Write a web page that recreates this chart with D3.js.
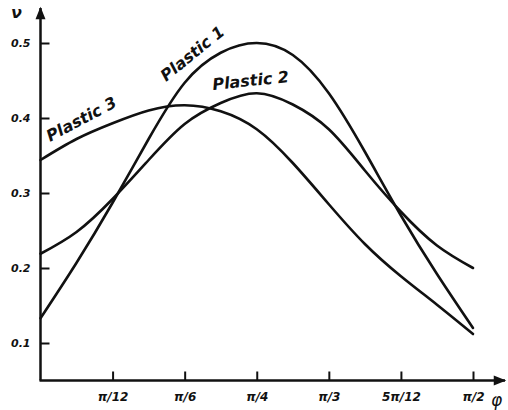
<!DOCTYPE html>
<html>
<head>
<meta charset="utf-8">
<script src="https://cdn.jsdelivr.net/npm/d3@7/dist/d3.min.js"></script>
<style>
  html, body { margin: 0; padding: 0; background: #fff; }
  svg { display: block; }
  text { font-family: "DejaVu Sans", "Liberation Sans", sans-serif; fill: #111; }
</style>
</head>
<body>
<svg id="chart" width="508" height="410"></svg>
<script>
// Angle φ in degrees (0 … π/2)
const phiDeg = [0, 7.5, 15, 22.5, 30, 37.5, 45, 52.5, 60, 67.5, 75, 82.5, 90];

// Poisson's ratio ν for each plastic
const plastic1 = [0.133, 0.207, 0.287, 0.372, 0.447, 0.487, 0.500, 0.484, 0.433, 0.355, 0.270, 0.192, 0.120];
const plastic2 = [0.219, 0.248, 0.292, 0.344, 0.392, 0.420, 0.433, 0.418, 0.385, 0.330, 0.275, 0.230, 0.200];
const plastic3 = [0.344, 0.372, 0.393, 0.410, 0.417, 0.409, 0.385, 0.340, 0.285, 0.232, 0.189, 0.151, 0.112];

const seriesNames = ["Plastic 1", "Plastic 2", "Plastic 3"];

// Axis ticks
const xTickValues = [15, 30, 45, 60, 75, 90];
const xTickLabels = ["π/12", "π/6", "π/4", "π/3", "5π/12", "π/2"];
const yTickValues = [0.1, 0.2, 0.3, 0.4, 0.5];
const yTickLabels = ["0.1", "0.2", "0.3", "0.4", "0.5"];

const svg = d3.select("#chart");
const ink = "#111";

const x = d3.scaleLinear().domain([0, 90]).range([40.5, 473]);
const y = d3.scaleLinear().domain([0.05, 0.5]).range([380.5, 43]);

const x0 = x(0), y0 = y(0.05);

// Arrowhead marker
svg.append("defs").append("marker")
  .attr("id", "arrow")
  .attr("viewBox", "0 0 10 10")
  .attr("refX", 9).attr("refY", 5)
  .attr("markerWidth", 6).attr("markerHeight", 5)
  .attr("markerUnits", "strokeWidth")
  .attr("orient", "auto")
  .append("path").attr("d", "M0,1 L10,5 L0,9 Z").attr("fill", ink);

// Y axis (ticks pointing inward, labels outside)
const yAxis = d3.axisLeft(y)
  .tickValues(yTickValues)
  .tickFormat((d, i) => yTickLabels[i])
  .tickSizeInner(-9).tickSizeOuter(0).tickPadding(10);
const gy = svg.append("g").attr("transform", `translate(${x0},0)`).call(yAxis);
gy.select(".domain").remove();
gy.selectAll(".tick line").attr("stroke", ink).attr("stroke-width", 2);
gy.selectAll(".tick text")
  .attr("font-size", 11).attr("font-weight", "bold").attr("font-style", "italic")
  .attr("fill", ink).attr("font-family", "DejaVu Sans");

// X axis
const xAxis = d3.axisBottom(x)
  .tickValues(xTickValues)
  .tickFormat((d, i) => xTickLabels[i])
  .tickSizeInner(-9).tickSizeOuter(0).tickPadding(12);
const gx = svg.append("g").attr("transform", `translate(0,${y0})`).call(xAxis);
gx.select(".domain").remove();
gx.selectAll(".tick line").attr("stroke", ink).attr("stroke-width", 2);
gx.selectAll(".tick text")
  .attr("font-size", 12).attr("font-weight", "bold").attr("font-style", "italic")
  .attr("fill", ink).attr("font-family", "DejaVu Sans");

// Axis lines with arrows
svg.append("line")
  .attr("x1", x0).attr("y1", y0).attr("x2", x0).attr("y2", 8)
  .attr("stroke", ink).attr("stroke-width", 2.5).attr("marker-end", "url(#arrow)");
svg.append("line")
  .attr("x1", x0 - 1).attr("y1", y0).attr("x2", 505).attr("y2", y0)
  .attr("stroke", ink).attr("stroke-width", 2.5).attr("marker-end", "url(#arrow)");

// Axis symbols
svg.append("text").attr("x", 11).attr("y", 18)
  .attr("font-size", 16).attr("font-weight", "bold").attr("font-style", "italic")
  .text("ν");
svg.append("text").attr("x", 491).attr("y", 406)
  .attr("font-size", 17).attr("font-style", "italic")
  .text("φ");

// Smooth curves through the sampled values
const line = d3.line()
  .x((d, i) => x(phiDeg[i]))
  .y(d => y(d))
  .curve(d3.curveNatural);

[plastic1, plastic2, plastic3].forEach(s => {
  svg.append("path")
    .attr("d", line(s))
    .attr("fill", "none")
    .attr("stroke", ink)
    .attr("stroke-width", 2.6)
    .attr("stroke-linecap", "round");
});

// Curve labels
const labelPos = [
  { x: 166, y: 82, rot: -39 },
  { x: 213, y: 90, rot: -6 },
  { x: 50, y: 142, rot: -28 }
];
seriesNames.forEach((name, i) => {
  const p = labelPos[i];
  svg.append("text")
    .attr("transform", `translate(${p.x},${p.y}) rotate(${p.rot})`)
    .attr("font-size", 16).attr("font-weight", "bold").attr("font-style", "italic")
    .text(name);
});
</script>
</body>
</html>
